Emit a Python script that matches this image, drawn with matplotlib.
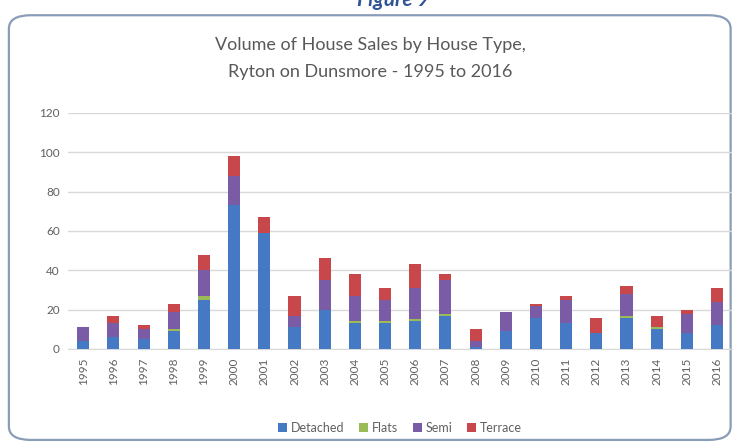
import matplotlib
matplotlib.use("Agg")
import matplotlib.pyplot as plt
from matplotlib.patches import FancyBboxPatch
import numpy as np

plt.rcParams["font.family"] = ["Lato", "DejaVu Sans"]

years = [str(y) for y in range(1995, 2017)]
detached = [4, 6, 5, 9, 25, 73, 59, 11, 20, 13, 13, 14, 17, 1, 9, 16, 13, 8, 16, 10, 8, 12]
flats = [0, 0, 0, 1, 2, 0, 0, 0, 0, 1, 1, 1, 1, 0, 0, 0, 0, 0, 1, 1, 0, 0]
semi = [7, 7, 5, 9, 13, 15, 0, 6, 15, 13, 11, 16, 17, 3, 10, 6, 12, 0, 11, 0, 10, 12]
terrace = [0, 4, 2, 4, 8, 10, 8, 10, 11, 11, 6, 12, 3, 6, 0, 1, 2, 8, 4, 6, 2, 7]

series = [
    ("Detached", detached, "#4679C4"),
    ("Flats", flats, "#9BBB59"),
    ("Semi", semi, "#7A5CA6"),
    ("Terrace", terrace, "#C8474A"),
]

fig = plt.figure(figsize=(7.41, 4.48), dpi=100)

# rounded frame around the chart (behind the axes)
frame = FancyBboxPatch((0.012, 0.018), 0.974, 0.948,
                       boxstyle="round,pad=0,rounding_size=0.03",
                       transform=fig.transFigure, facecolor="white",
                       edgecolor="#8A9DB8", linewidth=1.6, zorder=-1)
fig.patches.append(frame)

# caption sits at the very top, partly cropped as in the source page
fig.text(0.53, 1.0, "Figure 9", ha="center", va="center", fontsize=15,
         fontweight="bold", style="italic", color="#2F5597")

ax = fig.add_axes([0.092, 0.221, 0.896, 0.527])
x = np.arange(len(years))
bottom = np.zeros(len(years))
handles = []
for name, vals, col in series:
    b = ax.bar(x, vals, width=0.4, bottom=bottom, color=col, label=name, zorder=3)
    bottom += np.array(vals)
    handles.append(b)

ax.set_xlim(-0.5, len(years) - 0.5)
ax.set_ylim(0, 120)
ax.set_yticks(range(0, 121, 20))
ax.set_xticks(x)
ax.set_xticklabels(years, rotation=90)
ax.tick_params(axis="both", length=0, labelsize=8.5, colors="#606060", pad=6)
ax.yaxis.grid(True, color="#D9D9D9", linewidth=1, zorder=0)
for s in ["top", "right", "left"]:
    ax.spines[s].set_visible(False)
ax.spines["bottom"].set_color("#D9D9D9")
ax.set_facecolor("none")

fig.text(0.5, 0.9, "Volume of House Sales by House Type,", ha="center",
         va="center", fontsize=13, color="#595959")
fig.text(0.5, 0.84, "Ryton on Dunsmore - 1995 to 2016", ha="center",
         va="center", fontsize=13, color="#595959")

fig.legend(handles=handles, loc="center", bbox_to_anchor=(0.54, 0.045),
           ncol=4, frameon=False, fontsize=9, labelcolor="#606060",
           handlelength=0.7, handleheight=0.7, handletextpad=0.3,
           columnspacing=1.2)

fig.savefig("out.png", dpi=100, facecolor="white")
